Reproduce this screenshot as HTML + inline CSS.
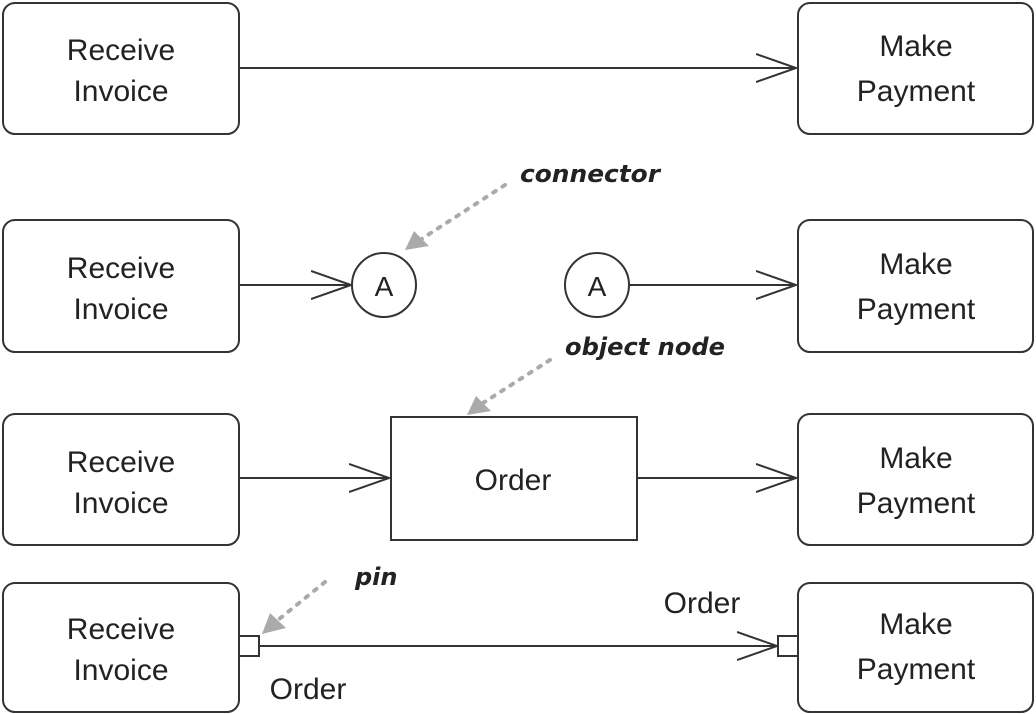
<!DOCTYPE html>
<html><head><meta charset="utf-8"><style>html,body{margin:0;padding:0;background:#fff}svg{display:block}
.t{font-family:"Liberation Sans",Arial,sans-serif}
.n{font-family:"DejaVu Sans",sans-serif;font-style:italic;font-weight:bold}</style></head>
<body>
<svg width="1036" height="714" viewBox="0 0 1036 714" xmlns="http://www.w3.org/2000/svg">
<defs>
<marker id="oa" markerWidth="42" markerHeight="32" refX="40" refY="16" orient="auto" markerUnits="userSpaceOnUse">
<path d="M0,2 L40,16 L0,30" fill="none" stroke="#333" stroke-width="2"/>
</marker>
</defs>
<g fill="none" stroke="#333" stroke-width="2">
<rect x="3" y="3" width="236" height="131" rx="12"/>
<rect x="798" y="3" width="235" height="131" rx="12"/>
<rect x="3" y="220" width="236" height="132" rx="12"/>
<rect x="798" y="220" width="235" height="132" rx="12"/>
<rect x="3" y="414" width="236" height="131" rx="12"/>
<rect x="798" y="414" width="235" height="131" rx="12"/>
<rect x="3" y="583" width="236" height="129" rx="12"/>
<rect x="798" y="583" width="235" height="129" rx="12"/>
<rect x="391" y="417" width="246" height="123"/>
<circle cx="384" cy="285" r="32"/>
<circle cx="597" cy="285" r="32"/>
<rect x="239" y="636" width="20" height="20" fill="#fff"/>
<rect x="778" y="636" width="20" height="20" fill="#fff"/>
<line x1="239" y1="68" x2="796" y2="68" marker-end="url(#oa)"/>
<line x1="239" y1="285" x2="351" y2="285" marker-end="url(#oa)"/>
<line x1="629" y1="285" x2="796" y2="285" marker-end="url(#oa)"/>
<line x1="239" y1="478" x2="389" y2="478" marker-end="url(#oa)"/>
<line x1="637" y1="478" x2="796" y2="478" marker-end="url(#oa)"/>
<line x1="259" y1="646" x2="777" y2="646" marker-end="url(#oa)"/>
</g>
<g stroke="#aaa" stroke-width="4" stroke-dasharray="3,8" stroke-linecap="round">
<line x1="505" y1="185" x2="420" y2="240"/>
<line x1="550" y1="360" x2="483" y2="403"/>
<line x1="325" y1="582" x2="278" y2="620"/>
</g>
<g fill="#aaa">
<polygon points="405,250 414,231 429,246"/>
<polygon points="467,415 476,396 491,411"/>
<polygon points="262,634 270,613 286,628"/>
</g>
<g class="t" font-size="30" fill="#222" text-anchor="middle">
<text x="121" y="60">Receive</text><text x="121" y="101">Invoice</text>
<text x="916" y="56">Make</text><text x="916" y="101">Payment</text>
<text x="121" y="278">Receive</text><text x="121" y="319">Invoice</text>
<text x="916" y="274">Make</text><text x="916" y="319">Payment</text>
<text x="121" y="472">Receive</text><text x="121" y="513">Invoice</text>
<text x="916" y="468">Make</text><text x="916" y="513">Payment</text>
<text x="121" y="639">Receive</text><text x="121" y="680">Invoice</text>
<text x="916" y="634">Make</text><text x="916" y="679">Payment</text>
<text x="513" y="490">Order</text>
<text x="384" y="296" font-size="28">A</text>
<text x="597" y="296" font-size="28">A</text>
<text x="308" y="699">Order</text>
<text x="702" y="613">Order</text>
</g>
<g class="n" font-size="24" fill="#222">
<text x="520" y="182" textLength="140" lengthAdjust="spacingAndGlyphs">connector</text>
<text x="565" y="355" textLength="160" lengthAdjust="spacingAndGlyphs">object node</text>
<text x="355" y="585">pin</text>
</g>
</svg>
</body></html>
